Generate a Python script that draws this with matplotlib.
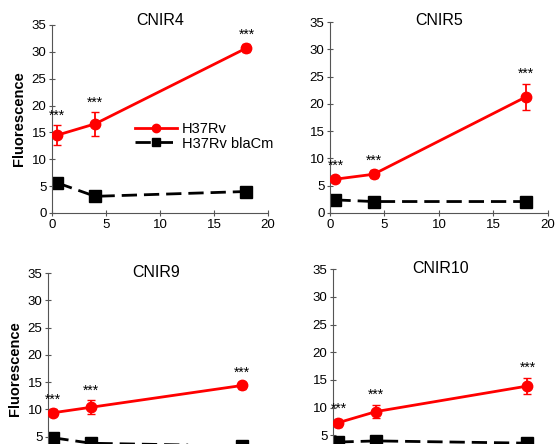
import matplotlib.pyplot as plt

plt.rcParams["font.family"] = ["Liberation Sans", "DejaVu Sans"]

# hours after substrate addition
hours = [0.5, 4, 18]

titles = ["CNIR4", "CNIR5", "CNIR9", "CNIR10"]

# H37Rv (red) means and error bars
wt_mean = [
    [14.5, 16.6, 30.7],
    [6.2, 7.1, 21.3],
    [9.4, 10.4, 14.4],
    [7.3, 9.3, 13.9],
]
wt_err = [
    [1.8, 2.2, 0.7],
    [0.6, 0.7, 2.4],
    [0.6, 1.3, 0.6],
    [0.7, 1.2, 1.5],
]

# H37Rv blaCm (black) means
mut_mean = [
    [5.6, 3.1, 4.0],
    [2.4, 2.1, 2.1],
    [4.8, 3.8, 3.3],
    [3.8, 4.0, 3.6],
]

# axes boxes in figure fractions; bottom row is cut off by the image edge
boxes = [
    [0.0935, 0.5203, 0.3885, 0.4234],
    [0.5935, 0.5203, 0.392, 0.430],
    [0.0863, -0.045, 0.3885, 0.430],
    [0.599, -0.043, 0.3885, 0.437],
]
title_pads = [0, -2, -3, -3]

fig = plt.figure(figsize=(5.56, 4.44), dpi=100)

for i, box in enumerate(boxes):
    ax = fig.add_axes(box)
    wt = ax.errorbar(hours, wt_mean[i], yerr=wt_err[i], color="#ff0000",
                     marker="o", markersize=7.5, linewidth=2, capsize=3,
                     elinewidth=1.3, zorder=3)
    (mut,) = ax.plot(hours, mut_mean[i], color="black", marker="s",
                     markersize=8, linewidth=2, dashes=(5.5, 2.5), zorder=2)
    for x, y, e in zip(hours, wt_mean[i], wt_err[i]):
        ax.text(x, y + e + 0.5, "***", ha="center", va="bottom", fontsize=10)
    ax.set_xlim(0, 20)
    ax.set_ylim(0, 35)
    ax.set_xticks([0, 5, 10, 15, 20])
    if i < 2:
        ax.set_yticks(range(0, 36, 5))
    else:
        # the lower part of the bottom row lies outside the picture
        ax.set_yticks(range(5, 36, 5))
        ax.tick_params(labelbottom=False)
    # fixed y turns off matplotlib's automatic title lifting
    ax.set_title(titles[i], fontsize=11.5, y=1.0, pad=title_pads[i])
    for side in ("top", "right"):
        ax.spines[side].set_visible(False)
    for side in ("left", "bottom"):
        ax.spines[side].set_color("#555555")
    ax.tick_params(direction="inout", length=4, color="#555555",
                   labelsize=9.5, pad=2)
    ax.patch.set_alpha(0)
    if i % 2 == 0:
        ax.set_ylabel("Fluorescence", fontsize=10.5, fontweight="bold",
                      labelpad=4)
    if i == 0:
        ax.legend([wt.lines[0], mut], ["H37Rv", "H37Rv blaCm"],
                  loc="upper left", bbox_to_anchor=(0.385, 0.485),
                  frameon=False, fontsize=10.5, handlelength=2.9,
                  handletextpad=0.3, labelspacing=0.05, borderaxespad=0,
                  borderpad=0, numpoints=1, markerscale=0.8)

fig.savefig("out.png", dpi=100)
